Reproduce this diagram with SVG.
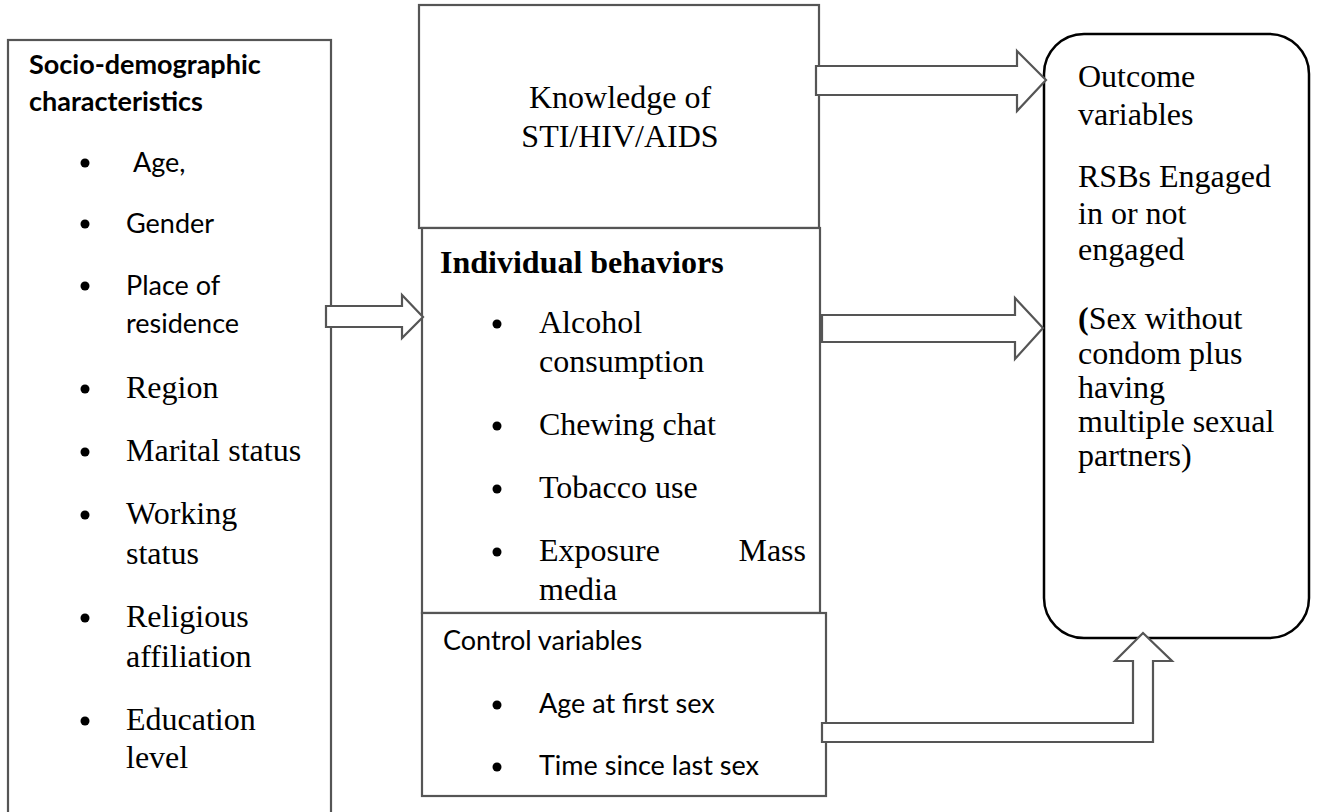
<svg xmlns="http://www.w3.org/2000/svg" width="1318" height="812" viewBox="0 0 1318 812">
<style>
.box{fill:#fff;stroke:#555;stroke-width:2.2}
.rbox{fill:#fff;stroke:#000;stroke-width:2.5}
.arrow{fill:#fff;stroke:#555;stroke-width:2.2;stroke-linejoin:miter}
.serif{font-family:"Liberation Serif","Times New Roman",serif;font-size:32px;fill:#000}
.sans{font-family:Lato,"Liberation Sans",sans-serif;font-size:27px;fill:#000}
.b{font-weight:bold}
.dot{fill:#000}
</style>
<rect width="1318" height="812" fill="#fff"/>
<g id="socio">
<rect class="box" x="8" y="40" width="323" height="800"/>
<text class="sans b" x="29" y="74">Socio-demographic</text>
<text class="sans b" x="29" y="111">characteristics</text>
<circle class="dot" cx="85" cy="163" r="4.5"/><text class="sans" x="133" y="172">Age,</text>
<circle class="dot" cx="85" cy="224" r="4.5"/><text class="sans" x="126" y="233">Gender</text>
<circle class="dot" cx="85" cy="286" r="4.5"/><text class="sans" x="126" y="295">Place of</text>
<text class="sans" x="126" y="333">residence</text>
<circle class="dot" cx="85" cy="389" r="4.5"/><text class="serif" x="126" y="398">Region</text>
<circle class="dot" cx="85" cy="452" r="4.5"/><text class="serif" x="126" y="461">Marital status</text>
<circle class="dot" cx="85" cy="515" r="4.5"/><text class="serif" x="126" y="524">Working</text>
<text class="serif" x="126" y="564">status</text>
<circle class="dot" cx="85" cy="618" r="4.5"/><text class="serif" x="126" y="627">Religious</text>
<text class="serif" x="126" y="667">affiliation</text>
<circle class="dot" cx="85" cy="721" r="4.5"/><text class="serif" x="126" y="730">Education</text>
<text class="serif" x="126" y="768">level</text>
</g>
<g id="knowledge">
<rect class="box" x="419" y="5" width="400" height="223"/>
<text class="serif" x="620" y="108" text-anchor="middle">Knowledge of</text>
<text class="serif" x="620" y="147" text-anchor="middle">STI/HIV/AIDS</text>
</g>
<g id="individual">
<rect class="box" x="422" y="228" width="398" height="385"/>
<text class="serif b" x="440" y="273">Individual behaviors</text>
<circle class="dot" cx="497" cy="324" r="4.5"/><text class="serif" x="539" y="333">Alcohol</text>
<text class="serif" x="539" y="372">consumption</text>
<circle class="dot" cx="497" cy="426" r="4.5"/><text class="serif" x="539" y="435">Chewing chat</text>
<circle class="dot" cx="497" cy="489" r="4.5"/><text class="serif" x="539" y="498">Tobacco use</text>
<circle class="dot" cx="497" cy="552" r="4.5"/><text class="serif" x="539" y="561">Exposure</text>
<text class="serif" x="806" y="561" text-anchor="end">Mass</text>
<text class="serif" x="539" y="600">media</text>
</g>
<g id="control">
<rect class="box" x="422" y="613" width="404" height="183"/>
<text class="sans" x="443" y="650">Control variables</text>
<circle class="dot" cx="497" cy="705" r="4.5"/><text class="sans" x="539" y="713">Age at first sex</text>
<circle class="dot" cx="497" cy="767" r="4.5"/><text class="sans" x="539" y="775">Time since last sex</text>
</g>
<g id="outcome">
<rect class="rbox" x="1044" y="34" width="265" height="604" rx="40" ry="40"/>
<text class="serif" x="1078" y="87">Outcome</text>
<text class="serif" x="1078" y="125">variables</text>
<text class="serif" x="1078" y="187">RSBs Engaged</text>
<text class="serif" x="1078" y="224">in or not</text>
<text class="serif" x="1078" y="260">engaged</text>
<text class="serif" x="1078" y="329"><tspan class="b">(</tspan>Sex without</text>
<text class="serif" x="1078" y="364">condom plus</text>
<text class="serif" x="1078" y="398">having</text>
<text class="serif" x="1078" y="432">multiple sexual</text>
<text class="serif" x="1078" y="466">partners)</text>
</g>
<g id="connectors">
<path class="arrow" d="M326,306 H402 V295 L423,317 L402,338 V327 H326 Z"/>
<path class="arrow" d="M816,66 H1017 V51 L1046,80 L1017,111 V95 H816 Z"/>
<path class="arrow" d="M822,315 H1015 V298 L1043,328 L1015,359 V342 H822 Z"/>
<path class="arrow" d="M822,723 H1133 V661 H1115 L1143,633 L1172,661 H1153 V742 H822 Z"/>
</g>
</svg>
